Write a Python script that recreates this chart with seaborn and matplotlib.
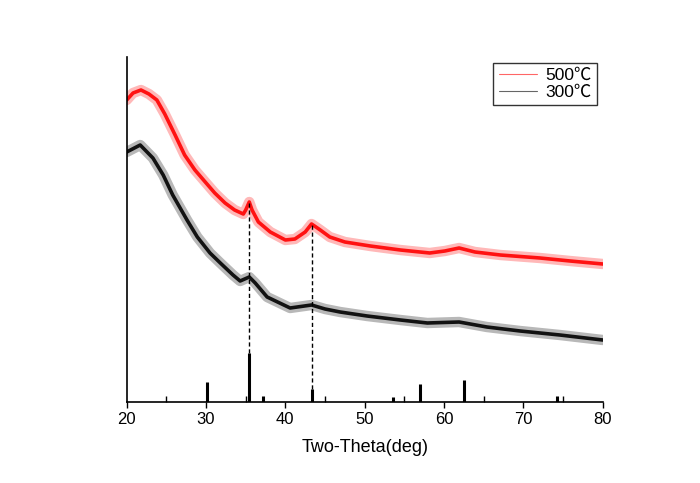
import numpy as np
import pandas as pd
import seaborn as sns
import matplotlib
matplotlib.use("Agg")
import matplotlib.pyplot as plt
from matplotlib.lines import Line2D

# ---- data ----
red_x = [20.0, 20.8, 21.8, 22.8, 23.8, 24.8, 26.1, 27.3, 28.6, 29.9, 31.1, 32.4, 33.6,
         34.7, 35.0, 35.45, 35.8, 36.6, 38.1, 40.0, 41.2, 42.5, 43.3, 44.4, 45.6, 47.5,
         50.7, 54.5, 58.2, 60.1, 61.9, 63.9, 67.1, 72.1, 75.9, 80.0]
red_y = [302, 309, 312, 308, 302, 288, 267, 247, 232, 220, 209, 199, 192,
         188, 192, 200, 192, 180, 170, 162, 163, 170, 178, 172, 165, 160,
         156, 152, 149, 151, 154, 150, 147, 144, 141, 138]

black_x = [20.0, 21.7, 23.3, 24.6, 25.8, 27.6, 28.9, 30.5, 31.8, 33.4, 34.3, 35.45,
           36.2, 37.7, 40.6, 43.3, 45.0, 46.9, 50.3, 54.5, 57.9, 61.9, 65.4, 69.6,
           74.6, 80.0]
black_y = [250, 257, 244, 227, 207, 182, 165, 149, 139, 127, 121, 125,
           119, 105, 94, 97, 93, 90, 86, 82, 79, 80, 75, 71, 67, 62]

stick_x = [30.1, 35.45, 37.2, 43.3, 53.6, 57.0, 62.5, 74.3]
stick_h = [20, 49, 6, 13.5, 5, 18, 22, 6]

dash_x = [35.45, 43.3]
dash_bottom = [49, 13.5]
dash_top = [200, 178]

labels = ["500\u2103", "300\u2103"]
xticks = [20, 30, 40, 50, 60, 70, 80]

# ---- figure ----
sns.set_style("ticks")
plt.rcParams['font.family'] = ['Liberation Sans', 'Noto Sans CJK SC', 'DejaVu Sans']

fig = plt.figure(figsize=(7.0, 4.83), dpi=100)
ax = fig.add_axes([126.7 / 700, 81 / 483, 476 / 700, 345 / 483])

df_red = pd.DataFrame({"x": red_x, "y": red_y})
df_black = pd.DataFrame({"x": black_x, "y": black_y})

# noisy band look: wide translucent line + core line
for df, col in [(df_red, "#ff0000"), (df_black, "#000000")]:
    sns.lineplot(data=df, x="x", y="y", ax=ax, color=col, lw=7.5, alpha=0.28,
                 legend=False, estimator=None, sort=False)
    sns.lineplot(data=df, x="x", y="y", ax=ax, color=col, lw=2.6, alpha=0.9,
                 legend=False, estimator=None, sort=False)

# reference sticks
ax.vlines(stick_x, 0, stick_h, colors="black", lw=2.2)
# dashed guide lines
ax.vlines(dash_x, dash_bottom, dash_top, colors="black", lw=1.0, linestyles=(0, (3, 2)))

# legend
handles = [Line2D([0], [0], color="#ff0000", lw=0.8, alpha=0.6),
           Line2D([0], [0], color="#000000", lw=0.8, alpha=0.6)]
leg = ax.legend(handles, labels, loc="upper right", bbox_to_anchor=(0.988, 0.983),
                borderaxespad=0, frameon=True, fancybox=False, fontsize=12.5,
                handlelength=2.2, handletextpad=0.5, borderpad=0.3, labelspacing=0.1)
leg.get_frame().set_edgecolor("black")
leg.get_frame().set_linewidth(1.0)
for t in leg.get_texts():
    t.set_color("black")

ax.set_xlim(20, 80)
ax.set_ylim(0, 345)
ax.set_xticks(xticks)
ax.set_xticks([25, 35, 45, 55, 65, 75], minor=True)
ax.tick_params(axis="x", which="major", direction="out", length=4, width=1.0,
               labelsize=12, pad=3, colors="black")
ax.tick_params(axis="x", which="minor", direction="in", length=4, width=1.0,
               colors="black")
ax.set_yticks([])
ax.set_ylabel("")
ax.set_xlabel("Two-Theta(deg)", fontsize=13, labelpad=9, color="black")

for s in ["top", "right"]:
    ax.spines[s].set_visible(False)
for s in ["left", "bottom"]:
    ax.spines[s].set_linewidth(1.2)
    ax.spines[s].set_color("black")

fig.savefig("out.png", dpi=100)
